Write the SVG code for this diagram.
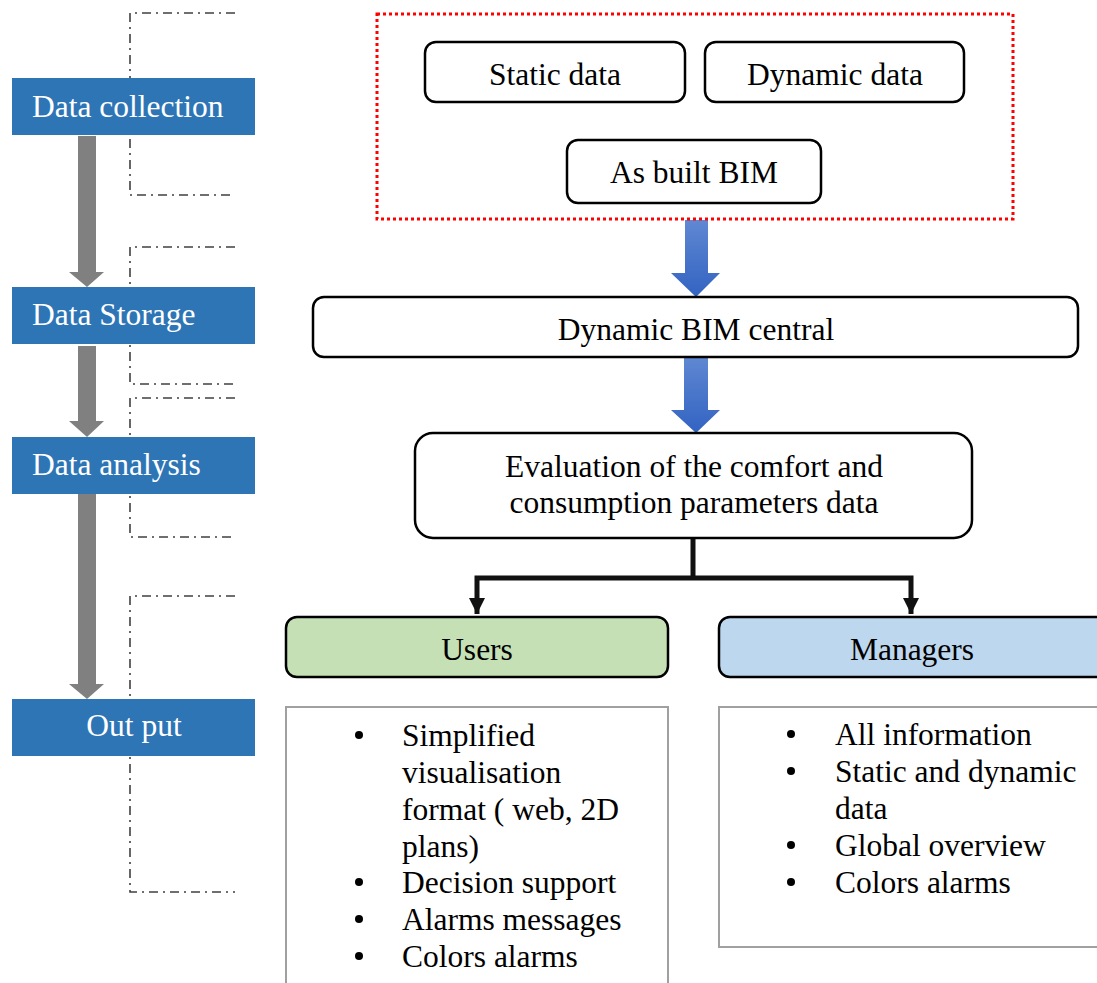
<svg xmlns="http://www.w3.org/2000/svg" width="1097" height="983" viewBox="0 0 1097 983">
  <style>
    text { font-family: "Liberation Serif", "Times New Roman", serif; font-size: 31.5px; fill: #000; }
    .stage-label { fill: #fff; }
    .mid { text-anchor: middle; }
    .stage { fill: #2e75b6; }
    .bracket { fill: none; stroke: #404040; stroke-width: 1.6; stroke-dasharray: 9 5 2 5; }
    .box { fill: #fff; stroke: #000; stroke-width: 2.5; }
    .list { fill: #fff; stroke: #a0a0a0; stroke-width: 2; }
    .flow { fill: #808080; }
    .blue-arrow { fill: url(#blueGrad); }
    .branch { fill: none; stroke: #111; stroke-width: 5; }
  </style>
  <defs>
    <linearGradient id="blueGrad" x1="0" y1="0" x2="0" y2="1">
      <stop offset="0" stop-color="#6088d2"/>
      <stop offset="1" stop-color="#3263c2"/>
    </linearGradient>
    <marker id="tri" viewBox="0 0 10 10" refX="10" refY="5" markerWidth="3.2" markerHeight="3.2" orient="auto" markerUnits="strokeWidth">
      <path d="M0,0 L10,5 L0,10 Z" fill="#111"/>
    </marker>
  </defs>

  <!-- phase brackets -->
  <g id="brackets">
    <path class="bracket" d="M235,13 H130 V195 H235"/>
    <path class="bracket" d="M235,247 H130 V384 H235"/>
    <path class="bracket" d="M235,398 H130 V537 H235"/>
    <path class="bracket" d="M235,596 H130 V892 H235"/>
  </g>

  <!-- process stages -->
  <g id="stage-collection">
    <rect class="stage" x="12" y="78" width="243" height="57"/>
    <text class="stage-label" x="32" y="117">Data collection</text>
  </g>
  <g id="stage-storage">
    <rect class="stage" x="12" y="287" width="243" height="57"/>
    <text class="stage-label" x="32" y="325">Data Storage</text>
  </g>
  <g id="stage-analysis">
    <rect class="stage" x="12" y="437" width="243" height="57"/>
    <text class="stage-label" x="32" y="475">Data analysis</text>
  </g>
  <g id="stage-output">
    <rect class="stage" x="12" y="699" width="243" height="57"/>
    <text class="stage-label mid" x="134" y="736">Out put</text>
  </g>

  <!-- connectors -->
  <g id="connectors">
    <path class="flow" d="M78,136 H96 V272 H104 L87,287 L69,272 H78 Z"/>
    <path class="flow" d="M78,346 H96 V421 H104 L87,437 L69,421 H78 Z"/>
    <path class="flow" d="M78,494 H96 V684 H104 L87,699 L69,684 H78 Z"/>
    <path class="blue-arrow" d="M685,220 H708 V273 H720 L696,297 L671,273 H685 Z"/>
    <path class="blue-arrow" d="M684,357 H708 V410 H720 L696,433 L671,410 H684 Z"/>
    <path class="branch" d="M693,538 V578"/>
    <path class="branch" d="M693,578 H477 V614" marker-end="url(#tri)"/>
    <path class="branch" d="M693,578 H911 V614" marker-end="url(#tri)"/>
  </g>

  <!-- data sources -->
  <g id="sources-frame">
    <rect x="377" y="14" width="636" height="205" fill="none" stroke="#ff0000" stroke-width="3" stroke-dasharray="3 3"/>
  </g>
  <g id="node-static">
    <rect class="box" x="425" y="42" width="260" height="60" rx="11"/>
    <text class="mid" x="555" y="85">Static data</text>
  </g>
  <g id="node-dynamic">
    <rect class="box" x="705" y="42" width="259" height="60" rx="11"/>
    <text class="mid" x="835" y="85">Dynamic data</text>
  </g>
  <g id="node-asbuilt">
    <rect class="box" x="567" y="140" width="254" height="63" rx="11"/>
    <text class="mid" x="694" y="183">As built BIM</text>
  </g>

  <g id="node-central">
    <rect class="box" x="313" y="297" width="765" height="60" rx="11"/>
    <text class="mid" x="696" y="340">Dynamic BIM central</text>
  </g>

  <g id="node-evaluation">
    <rect class="box" x="415" y="433" width="557" height="105" rx="18"/>
    <text class="mid" x="694" y="477">Evaluation of the comfort and</text>
    <text class="mid" x="694" y="513">consumption parameters data</text>
  </g>

  <g id="node-users">
    <rect class="box" x="286" y="617" width="382" height="60" rx="11" style="fill:#c5e0b4"/>
    <text class="mid" x="477" y="660">Users</text>
  </g>
  <g id="node-managers">
    <rect class="box" x="719" y="617" width="400" height="60" rx="11" style="fill:#bdd7ee"/>
    <text class="mid" x="912" y="660">Managers</text>
  </g>

  <g id="list-users">
    <rect class="list" x="286" y="707" width="382" height="290"/>
    <circle cx="359" cy="735" r="4"/>
    <circle cx="359" cy="882" r="4"/>
    <circle cx="359" cy="919" r="4"/>
    <circle cx="359" cy="956" r="4"/>
    <text x="402" y="746">Simplified</text>
    <text x="402" y="783">visualisation</text>
    <text x="402" y="820">format ( web, 2D</text>
    <text x="402" y="857">plans)</text>
    <text x="402" y="893">Decision support</text>
    <text x="402" y="930">Alarms messages</text>
    <text x="402" y="967">Colors alarms</text>
  </g>

  <g id="list-managers">
    <rect class="list" x="719" y="707" width="400" height="240"/>
    <circle cx="791" cy="734" r="4"/>
    <circle cx="791" cy="771" r="4"/>
    <circle cx="791" cy="845" r="4"/>
    <circle cx="791" cy="882" r="4"/>
    <text x="835" y="745">All information</text>
    <text x="835" y="782">Static and dynamic</text>
    <text x="835" y="819">data</text>
    <text x="835" y="856">Global overview</text>
    <text x="835" y="893">Colors alarms</text>
  </g>
</svg>
